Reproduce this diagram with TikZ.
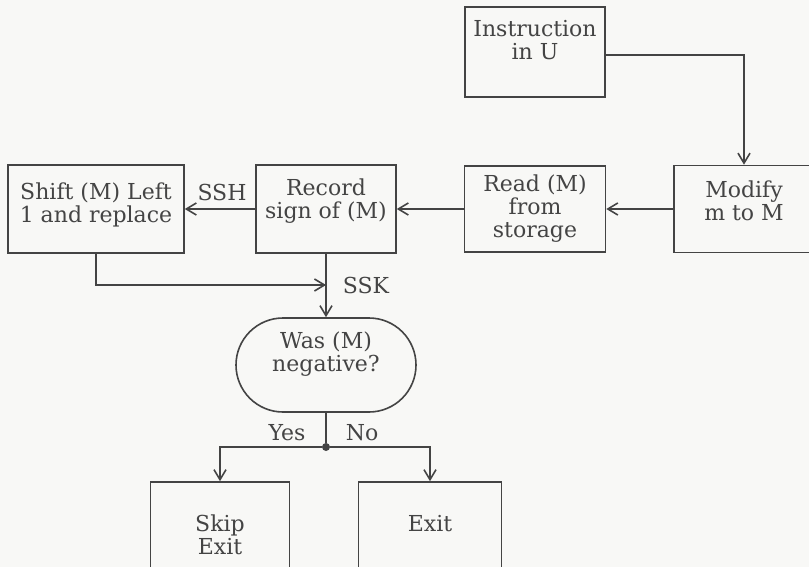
\documentclass[tikz,border=0pt]{standalone}
\usepackage{fontspec}
\setmainfont{DejaVu Serif}
\usepackage{tikz}
\usetikzlibrary{arrows.meta, shapes.misc, positioning}
\definecolor{inkgray}{RGB}{68,68,68}
\definecolor{papergray}{RGB}{248,248,246}

\begin{document}
\begin{tikzpicture}[x=0.5pt, y=-0.5pt,
    box/.style={draw=inkgray, line width=0.8pt, text=inkgray, align=center,
                inner sep=0pt, font=\fontsize{11}{11.5}\selectfont},
    decision/.style={box, rounded rectangle},
    flow/.style={draw=inkgray, line width=0.8pt, -{Straight Barb[length=5pt, width=6pt]}},
    tag/.style={text=inkgray, font=\fontsize{11}{11.5}\selectfont}]

% Page
\useasboundingbox (0,0) rectangle (809,567);
\fill[papergray] (0,0) rectangle (809,567);

% Boxes
\node[box, minimum width=70pt, minimum height=45pt, text depth=12pt] (instr) at (535,52)
    {Instruction\\in U};
\node[box, minimum width=70pt, minimum height=43.5pt, text depth=8pt] (modify) at (744,209)
    {Modify\\m to M};
\node[box, minimum width=70.5pt, minimum height=43pt] (read) at (535,209)
    {Read (M)\\from\\storage};
\node[box, minimum width=70pt, minimum height=44pt, text depth=10pt] (record) at (326,209)
    {Record\\sign of (M)};
\node[box, minimum width=88pt, minimum height=44pt, text depth=6.5pt] (shift) at (96,209)
    {Shift (M) Left\\1 and replace};
\node[decision, minimum width=90pt, minimum height=47pt, text depth=13pt] (test) at (326,365)
    {Was (M)\\negative?};
\node[box, minimum width=69.5pt, minimum height=53pt] (skip) at (220,535)
    {Skip\\Exit};
\node[box, minimum width=71.5pt, minimum height=53pt, text depth=12pt] (exit) at (430,535)
    {Exit};

% Branch point
\node[circle, fill=inkgray, inner sep=0pt, minimum size=4pt] (fork) at (326,447) {};
\coordinate (merge) at (326,285);

% Labels
\node[tag] (ssh) at (222,192) {SSH};
\node[tag] (ssk) at (366,285) {SSK};
\node[tag] (yes) at (287,433) {Yes};
\node[tag] (no) at (362,433) {No};

% Connectors
\draw[flow] ([yshift=-1.5pt]instr.east) -| (modify.north);
\draw[flow] (modify) -- (read);
\draw[flow] (read) -- (record);
\draw[flow] (record) -- (shift);
\draw[flow] (record.south) -- (test.north);
\draw[flow] (shift.south) |- (merge);
\draw[draw=inkgray, line width=0.8pt] (test.south) -- (fork);
\draw[flow] (fork) -| (skip.north);
\draw[flow] (fork) -| (exit.north);

\end{tikzpicture}
\end{document}
